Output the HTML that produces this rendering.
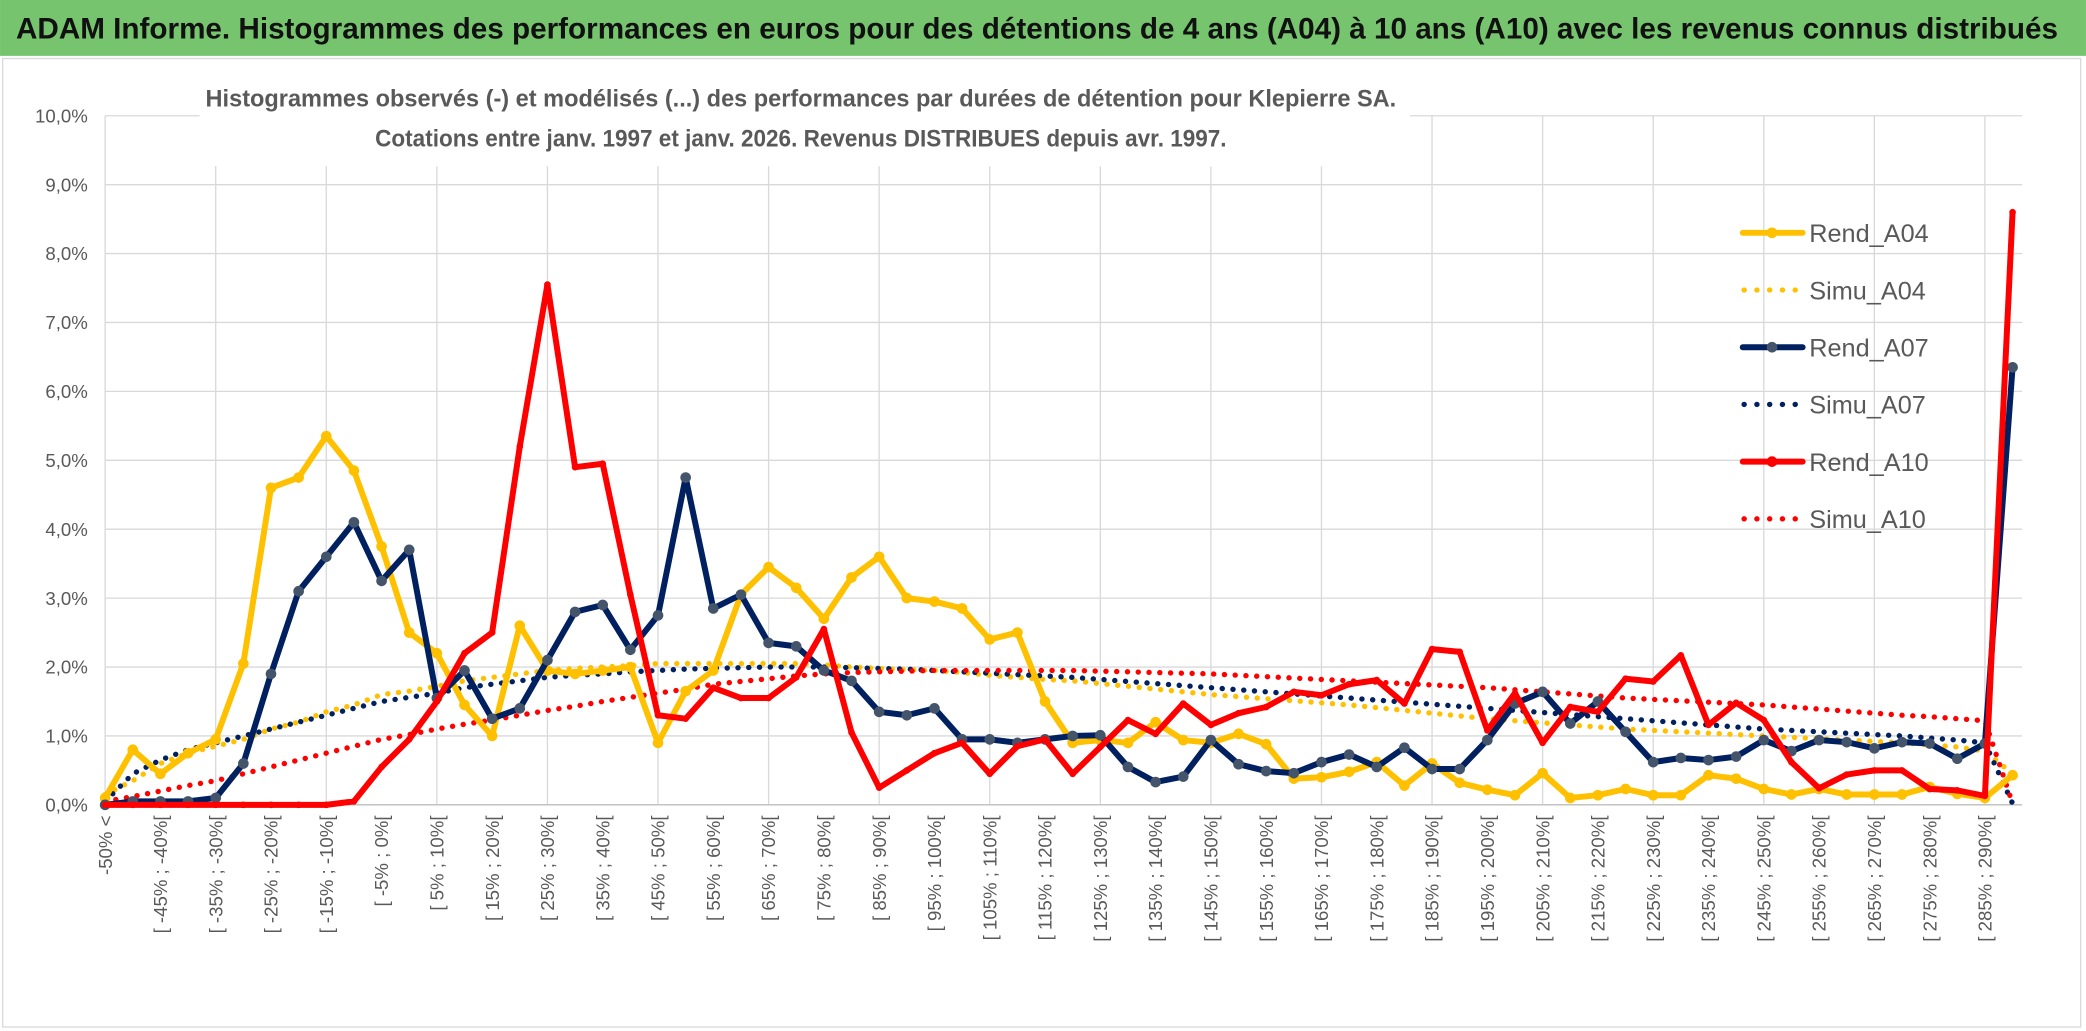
<!DOCTYPE html>
<html><head><meta charset="utf-8"><style>
html,body{margin:0;padding:0;background:#fff;}
svg{display:block;font-family:"Liberation Sans",sans-serif;}
</style></head><body>
<svg id="chart" width="2086" height="1031" viewBox="0 0 1568 775" xmlns="http://www.w3.org/2000/svg">
<rect x="0" y="0" width="1568" height="775" fill="#fff"/>
<rect x="0" y="0" width="1568" height="42" fill="#77c46f"/>
<text x="12" y="29" font-size="22" font-weight="bold" fill="#111" textLength="1535" lengthAdjust="spacingAndGlyphs">ADAM Informe. Histogrammes des performances en euros pour des détentions de 4 ans (A04) à 10 ans (A10) avec les revenus connus distribués</text>
<rect x="2" y="44" width="1562" height="728" fill="none" stroke="#d9d9d9" stroke-width="1"/>
<g id="grid"></g>
<g id="ylabels"></g>
<g id="xlabels"></g>
<rect x="150" y="55" width="910" height="70" fill="#fff"/>
<text x="602" y="80" font-size="18" font-weight="bold" fill="#595959" text-anchor="middle" textLength="895" lengthAdjust="spacingAndGlyphs">Histogrammes observés (-) et modélisés (...) des performances par durées de détention pour Klepierre SA.</text>
<text x="602" y="110" font-size="18" font-weight="bold" fill="#595959" text-anchor="middle" textLength="640" lengthAdjust="spacingAndGlyphs">Cotations entre janv. 1997 et janv. 2026. Revenus DISTRIBUES depuis avr. 1997.</text>
<g id="series"></g>
<g id="legend"></g>
</svg>
<script>
const categories = (function(){const c=["-50% <"];for(let a=-50;a<295;a+=5){c.push("[ "+a+"% ; "+(a+5)+"%[");}return c;})();
const yTicks = [0,1,2,3,4,5,6,7,8,9,10];
const rendA04 = [0.1,0.8,0.45,0.75,0.95,2.05,4.6,4.75,5.35,4.85,3.75,2.5,2.2,1.45,1.0,2.6,1.95,1.9,1.95,2.0,0.9,1.65,1.95,3.05,3.45,3.15,2.7,3.3,3.6,3.0,2.95,2.85,2.4,2.5,1.5,0.9,0.94,0.9,1.2,0.94,0.9,1.03,0.88,0.38,0.4,0.48,0.62,0.28,0.6,0.32,0.22,0.14,0.46,0.1,0.14,0.23,0.14,0.14,0.43,0.38,0.23,0.15,0.23,0.15,0.15,0.15,0.26,0.16,0.1,0.43];
const rendA07 = [0.0,0.05,0.05,0.05,0.1,0.6,1.9,3.1,3.6,4.1,3.25,3.7,1.55,1.95,1.25,1.4,2.1,2.8,2.9,2.25,2.75,4.75,2.85,3.05,2.35,2.3,1.95,1.8,1.35,1.3,1.4,0.95,0.95,0.9,0.95,1.0,1.01,0.55,0.33,0.41,0.94,0.59,0.49,0.46,0.62,0.73,0.55,0.83,0.52,0.52,0.94,1.47,1.64,1.18,1.5,1.06,0.62,0.68,0.65,0.7,0.94,0.78,0.94,0.91,0.82,0.91,0.89,0.67,0.89,6.35];
const rendA10 = [0,0,0,0,0,0,0,0,0,0.05,0.55,0.95,1.5,2.2,2.5,5.2,7.55,4.9,4.95,3.05,1.3,1.25,1.7,1.55,1.55,1.85,2.55,1.05,0.25,0.5,0.75,0.9,0.45,0.85,0.95,0.45,0.84,1.23,1.03,1.47,1.16,1.33,1.42,1.64,1.59,1.75,1.81,1.47,2.26,2.22,1.08,1.62,0.9,1.42,1.35,1.83,1.79,2.17,1.16,1.48,1.23,0.62,0.24,0.44,0.5,0.5,0.23,0.21,0.13,8.6];
const simuA04 = [0.15,0.35,0.6,0.75,0.85,0.95,1.1,1.2,1.35,1.45,1.6,1.65,1.72,1.8,1.85,1.9,1.95,1.98,2.0,2.02,2.05,2.05,2.05,2.05,2.05,2.05,2.03,2.0,1.98,1.96,1.95,1.92,1.88,1.85,1.82,1.8,1.76,1.72,1.68,1.64,1.6,1.57,1.54,1.51,1.48,1.45,1.41,1.37,1.33,1.29,1.25,1.22,1.19,1.16,1.13,1.1,1.08,1.06,1.04,1.02,1.0,0.98,0.96,0.94,0.92,0.9,0.87,0.84,0.78,0.45];
const simuA07 = [0.05,0.45,0.65,0.8,0.9,1.0,1.1,1.2,1.3,1.4,1.5,1.56,1.62,1.7,1.75,1.8,1.85,1.88,1.9,1.93,1.95,1.97,1.98,1.99,2.0,2.0,2.0,1.99,1.98,1.97,1.95,1.93,1.91,1.89,1.87,1.85,1.82,1.79,1.76,1.73,1.7,1.67,1.64,1.61,1.58,1.55,1.52,1.49,1.46,1.43,1.4,1.37,1.34,1.31,1.28,1.25,1.22,1.19,1.16,1.13,1.1,1.08,1.06,1.04,1.02,1.0,0.97,0.94,0.9,0.02];
const simuA10 = [0.05,0.12,0.2,0.28,0.35,0.45,0.55,0.65,0.75,0.85,0.95,1.02,1.1,1.17,1.23,1.3,1.37,1.43,1.5,1.56,1.62,1.68,1.75,1.79,1.83,1.87,1.9,1.92,1.93,1.94,1.95,1.95,1.95,1.95,1.95,1.95,1.94,1.93,1.92,1.91,1.9,1.88,1.86,1.84,1.82,1.8,1.78,1.76,1.74,1.72,1.7,1.67,1.64,1.61,1.58,1.55,1.53,1.51,1.49,1.47,1.45,1.42,1.39,1.36,1.33,1.3,1.28,1.25,1.22,0.02];

const NS="http://www.w3.org/2000/svg";
const X0=79, XS=20.78, Y0=605, YS=51.8;
function xPos(i){return X0+XS*i;}
function yPos(v){return Y0-YS*v;}
function mk(tag,parent,attrs){const e=document.createElementNS(NS,tag);for(const k in attrs)e.setAttribute(k,attrs[k]);parent.appendChild(e);return e;}

const grid=document.getElementById('grid');
const XR=1520;
yTicks.forEach(t=>{
  const l=mk('line',grid,{x1:xPos(0),x2:XR,y1:yPos(t),y2:yPos(t),stroke:'#d9d9d9','stroke-width':1});
  
  
  const tx=mk('text',document.getElementById('ylabels'),{x:66,y:yPos(t)+5,'font-size':14,fill:'#595959','text-anchor':'end'});
  tx.textContent=t.toFixed(1).replace('.',',')+'%';
  
  
});
categories.forEach((c,i)=>{
  if(i%4===0){
    const l=mk('line',grid,{x1:xPos(i),x2:xPos(i),y1:yPos(10),y2:yPos(0),stroke:'#d9d9d9','stroke-width':1});
    
    
  }
  if(i%2!==0)return;
  const x=xPos(i)+5, y=613;
  const tx=mk('text',document.getElementById('xlabels'),{x:x,y:y,'font-size':14,fill:'#595959','text-anchor':'end',transform:'rotate(-90 '+x+' '+y+')'});
  tx.textContent=c;
  
  
});
mk('line',grid,{x1:xPos(0),x2:XR,y1:Y0,y2:Y0,stroke:'#bfbfbf','stroke-width':1});

const series=document.getElementById('series');
function pts(arr){return arr.map((v,i)=>xPos(i)+','+yPos(v)).join(' ');}
function dotted(arr,color,name){
  const p=mk('polyline',series,{points:pts(arr),fill:'none',stroke:color,'stroke-width':4,'stroke-dasharray':'0.1 8','stroke-linecap':'round'});
  
  
}
function solid(arr,color,mcolor,r,name){
  const g=mk('g',series,{});
  
  
  mk('polyline',g,{points:pts(arr),fill:'none',stroke:color,'stroke-width':4.5,'stroke-linejoin':'round'});
  arr.forEach((v,i)=>{
    const c=mk('circle',g,{cx:xPos(i),cy:yPos(v),r:r,fill:mcolor});
    
    
  });
}
dotted(simuA04,'#ffc000','simu-a04-line');
dotted(simuA07,'#002060','simu-a07-line');
dotted(simuA10,'#ff0000','simu-a10-line');
solid(rendA04,'#ffc000','#ffc000',4,'rend-a04-line');
solid(rendA07,'#002060','#44546a',4,'rend-a07-line');
solid(rendA10,'#ff0000','#ff0000',2.5,'rend-a10-line');

const legendItems=[['Rend_A04','#ffc000',false],['Simu_A04','#ffc000',true],['Rend_A07','#002060',false],['Simu_A07','#002060',true],['Rend_A10','#ff0000',false],['Simu_A10','#ff0000',true]];
const lg=document.getElementById('legend');
legendItems.forEach((it,k)=>{
  const y=175+k*43;
  const g=mk('g',lg,{});
  
  
  if(it[2]){
    mk('line',g,{x1:1311,x2:1355,y1:y,y2:y,stroke:it[1],'stroke-width':4,'stroke-dasharray':'0.1 9.5','stroke-linecap':'round'});
  } else {
    mk('line',g,{x1:1310,x2:1355,y1:y,y2:y,stroke:it[1],'stroke-width':4.5,'stroke-linecap':'round'});
    mk('circle',g,{cx:1332,cy:y,r:4,fill:it[0]==='Rend_A07'?'#44546a':it[1]});
  }
  const t=mk('text',g,{x:1360,y:y+7,'font-size':19,fill:'#595959'});
  t.textContent=it[0];
});
</script>
</body></html>
